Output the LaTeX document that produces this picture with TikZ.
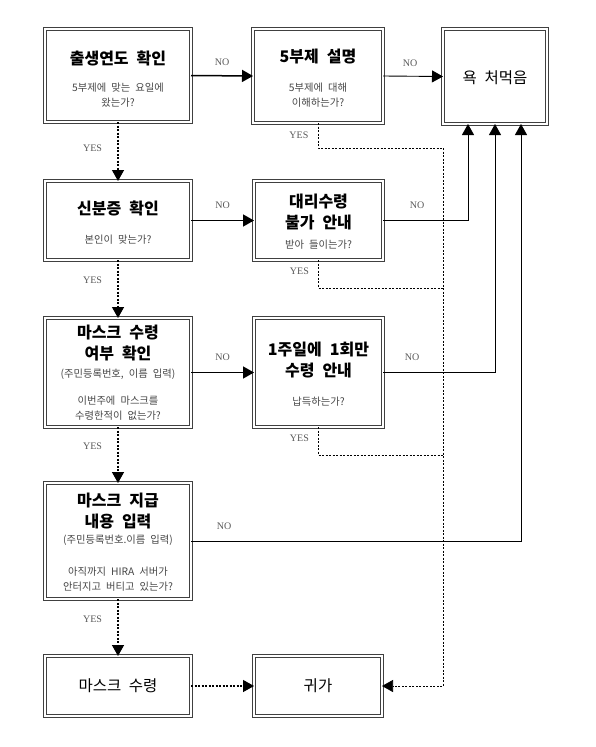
\documentclass[tikz,border=0pt]{standalone}
\usepackage{fontspec}
\setmainfont{Liberation Serif}
\newfontfamily\kr[WordSpace=2.2]{Noto Sans CJK KR}
\usetikzlibrary{arrows.meta}
\begin{document}
\begin{tikzpicture}[x=1pt,y=-1pt,
  box/.style={draw=black!75, line width=1.1pt, double=white, double distance=1.2pt, fill=white, inner sep=0pt, outer sep=0pt},
  ttl/.style={font=\kr\bfseries\fontsize{16}{21}\selectfont, align=center},
  plain/.style={font=\kr\fontsize{15.5}{20}\selectfont, align=center},
  sub/.style={font=\kr\fontsize{10.3}{15}\selectfont, text=black!72, align=center},
  lbl/.style={font=\fontsize{10}{11}\selectfont, text=black!65},
  tip/.style={-{Triangle[length=11pt,width=12pt]}},
  thickarrow/.style={tip, line width=1.5pt},
  thinarrow/.style={tip, line width=0.9pt},
  dasharrow/.style={tip, line width=1.3pt, dash pattern=on 2pt off 1.5pt},
  thindash/.style={line width=0.7pt, dash pattern=on 2pt off 1.5pt}]
\useasboundingbox[fill=white] (0,0) rectangle (595,747);

% boxes
\node[box, minimum width=146pt, minimum height=93pt] (b1) at (118,75.5) {};
\node[box, minimum width=130pt, minimum height=94pt] (b2) at (318,76) {};
\node[box, minimum width=104pt, minimum height=95pt] (b3) at (495,76.5) {};
\node[box, minimum width=146pt, minimum height=79pt] (c1) at (118,220.5) {};
\node[box, minimum width=129pt, minimum height=79pt] (c2) at (318.5,220.5) {};
\node[box, minimum width=146pt, minimum height=109pt] (d1) at (118,372.5) {};
\node[box, minimum width=129pt, minimum height=109pt] (d2) at (318.5,372.5) {};
\node[box, minimum width=146pt, minimum height=116pt] (e1) at (118,541) {};
\node[box, minimum width=146pt, minimum height=60pt] (f1) at (118,686) {};
\node[box, minimum width=128pt, minimum height=60pt] (f2) at (318,686) {};

% texts
\node[ttl] (b1t) at (118,58) {출생연도 확인};
\node[sub] (b1s) at (118,95) {5부제에 맞는 요일에\\왔는가?};
\node[ttl] (b2t) at (318,57) {5부제 설명};
\node[sub] (b2s) at (318,95) {5부제에 대해\\이해하는가?};
\node[plain] (b3t) at (495,78) {욕 처먹음};
\node[ttl] (c1t) at (118,208) {신분증 확인};
\node[sub] (c1s) at (118,240) {본인이 맞는가?};
\node[ttl] (c2t) at (318.5,211.5) {대리수령\\불가 안내};
\node[sub] (c2s) at (318.5,245) {받아 들이는가?};
\node[ttl] (d1t) at (118,343.5) {마스크 수령\\여부 확인};
\node[sub] (d1p) at (118,374) {(주민등록번호, 이름 입력)};
\node[sub] (d1s) at (118,408) {이번주에 마스크를\\수령한적이 없는가?};
\node[ttl] (d2t) at (318.5,360) {1주일에 1회만\\수령 안내};
\node[sub] (d2s) at (318.5,402) {납득하는가?};
\node[ttl] (e1t) at (118,511) {마스크 지급\\내용 입력};
\node[sub] (e1p) at (118,540) {(주민등록번호.이름 입력)};
\node[sub] (e1s) at (118,579.5) {아직까지 HIRA 서버가\\안터지고 버티고 있는가?};
\node[plain] (f1t) at (118,686) {마스크 수령};
\node[plain] (f2t) at (318,686) {귀가};

% junction coordinates
\coordinate (j1) at (443,148);
\coordinate (j2) at (443,288);
\coordinate (j3) at (443,455);

% NO connectors
\draw[thickarrow] (b1.east) -- (b2.west) node[lbl, pos=0.5, above=6pt] (n1) {NO};
\draw[thinarrow] (b2.east) -- (b3.west) node[lbl, pos=0.45, above=6pt] (n2) {NO};
\draw[thickarrow] (c1.east) -- (c2.west) node[lbl, pos=0.5, above=8pt] (n3) {NO};
\draw[thinarrow] (c2.east) -| ([xshift=-27pt]b3.south) node[lbl, pos=0.2, above=8pt] (n4) {NO};
\draw[thickarrow] (d1.east) -- (d2.west) node[lbl, pos=0.5, above=8pt] (n5) {NO};
\draw[thinarrow] (d2.east) -| (b3.south) node[lbl, pos=0.13, above=8pt] (n6) {NO};
\draw[thinarrow] (e1.east) -| ([xshift=26pt]b3.south) node[lbl, pos=0.05, above=8pt] (n7) {NO};

% YES connectors
\draw[dasharrow] (b1.south) -- (c1.north) node[lbl, pos=0.45, left=12pt] (y1) {YES};
\draw[dasharrow] (c1.south) -- (d1.north) node[lbl, pos=0.35, left=12pt] (y2) {YES};
\draw[dasharrow] (d1.south) -- (e1.north) node[lbl, pos=0.35, left=12pt] (y3) {YES};
\draw[dasharrow] (e1.south) -- (f1.north) node[lbl, pos=0.35, left=12pt] (y4) {YES};
\draw[dasharrow] (f1.east) -- (f2.west);

\draw[thindash] (b2.south) |- (j1) node[lbl, pos=0.25, left=6pt] (y5) {YES};
\draw[thindash] (c2.south) |- (j2) node[lbl, pos=0.2, left=6pt] (y6) {YES};
\draw[thindash] (d2.south) |- (j3) node[lbl, pos=0.2, left=6pt] (y7) {YES};
\draw[thindash, tip] (j1) |- (f2.east);
\end{tikzpicture}
\end{document}
